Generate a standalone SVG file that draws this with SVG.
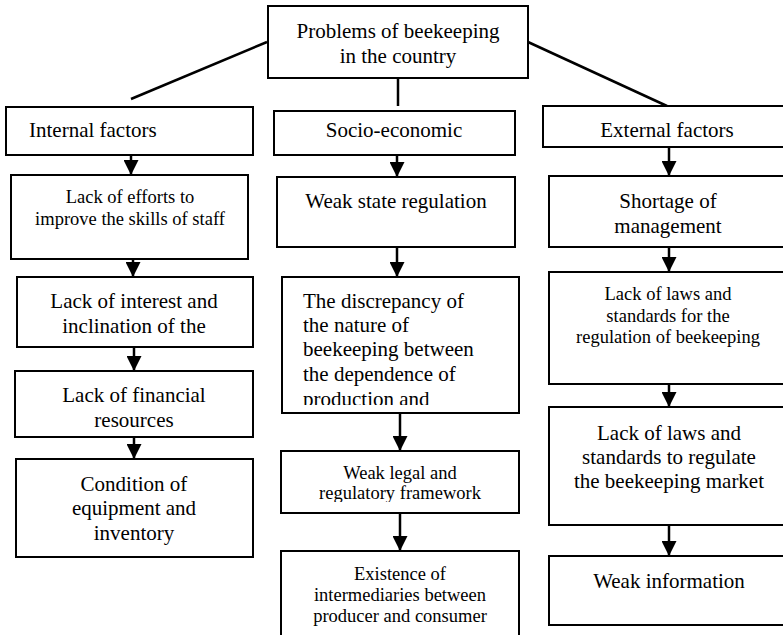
<svg xmlns="http://www.w3.org/2000/svg" width="783" height="635" viewBox="0 0 783 635">
  <style>
    .box { fill: #fff; stroke: #000; stroke-width: 2; }
    .t { fill: #000; }
    .lg { font-size: 21px; }
    .sm { font-size: 18.5px; }
    .c { text-anchor: middle; }
    .link { stroke: #000; stroke-width: 2.5; fill: none; }
    .arr { stroke: #000; stroke-width: 2.5; fill: none; marker-end: url(#head); }
  </style>
  <defs>
    <marker id="head" viewBox="0 0 15 15" refX="15" refY="7.5" markerWidth="15" markerHeight="15" markerUnits="userSpaceOnUse" orient="auto">
      <path d="M0,0 L15,7.5 L0,15 z" fill="#000"/>
    </marker>
    <clipPath id="clip-discrepancy"><rect x="282" y="278" width="236" height="127"/></clipPath>
    <clipPath id="clip-legal"><rect x="282" y="452" width="236" height="50"/></clipPath>
  </defs>

  <!-- connectors -->
  <g id="connectors">
    <line class="link" x1="267" y1="42" x2="131" y2="99"/>
    <line class="link" x1="398" y1="78" x2="398" y2="106"/>
    <line class="link" x1="528" y1="42" x2="667" y2="106"/>

    <line class="arr" x1="131" y1="155" x2="131" y2="175"/>
    <line class="arr" x1="133" y1="259" x2="133" y2="277"/>
    <line class="arr" x1="134" y1="347" x2="134" y2="371"/>
    <line class="arr" x1="134" y1="437" x2="134" y2="459"/>

    <line class="arr" x1="397" y1="155" x2="397" y2="177"/>
    <line class="arr" x1="397" y1="247" x2="397" y2="277"/>
    <line class="arr" x1="400" y1="413" x2="400" y2="451"/>
    <line class="arr" x1="400" y1="513" x2="400" y2="551"/>

    <line class="arr" x1="669" y1="147" x2="669" y2="176"/>
    <line class="arr" x1="669" y1="247" x2="669" y2="272"/>
    <line class="arr" x1="669" y1="384" x2="669" y2="407"/>
    <line class="arr" x1="669" y1="525" x2="669" y2="556"/>
  </g>

  <g font-family="'Liberation Serif', 'Times New Roman', serif">
  <!-- root -->
  <g id="root">
    <rect class="box" x="268" y="6" width="260" height="72"/>
    <text class="t lg c" x="398" y="38">Problems of beekeeping</text>
    <text class="t lg c" x="398" y="63">in the country</text>
  </g>

  <!-- column headers -->
  <g id="internal">
    <rect class="box" x="6" y="107" width="247" height="48"/>
    <text class="t lg" x="29" y="137">Internal factors</text>
  </g>
  <g id="socio">
    <rect class="box" x="274" y="111" width="241" height="44"/>
    <text class="t lg c" x="394" y="137">Socio-economic</text>
  </g>
  <g id="external">
    <rect class="box" x="543" y="106" width="242" height="41"/>
    <text class="t lg c" x="667" y="137">External factors</text>
  </g>

  <!-- internal factors column -->
  <g id="skills">
    <rect class="box" x="11" y="175" width="237" height="84"/>
    <text class="t sm c" x="130" y="203">Lack of efforts to</text>
    <text class="t sm c" x="130" y="225">improve the skills of staff</text>
  </g>
  <g id="interest">
    <rect class="box" x="17" y="277" width="236" height="70"/>
    <text class="t lg c" x="134" y="308">Lack of interest and</text>
    <text class="t lg c" x="134" y="333">inclination of the</text>
  </g>
  <g id="finance">
    <rect class="box" x="15" y="371" width="238" height="66"/>
    <text class="t lg c" x="134" y="402">Lack of financial</text>
    <text class="t lg c" x="134" y="427">resources</text>
  </g>
  <g id="equipment">
    <rect class="box" x="16" y="459" width="237" height="98"/>
    <text class="t lg c" x="134" y="491">Condition of</text>
    <text class="t lg c" x="134" y="515">equipment and</text>
    <text class="t lg c" x="134" y="540">inventory</text>
  </g>

  <!-- socio-economic column -->
  <g id="state">
    <rect class="box" x="277" y="177" width="238" height="70"/>
    <text class="t lg c" x="396" y="208">Weak state regulation</text>
  </g>
  <g id="discrepancy">
    <rect class="box" x="282" y="277" width="237" height="136"/>
    <g clip-path="url(#clip-discrepancy)">
      <text class="t lg" x="303" y="308">The discrepancy of</text>
      <text class="t lg" x="303" y="332">the nature of</text>
      <text class="t lg" x="303" y="356">beekeeping between</text>
      <text class="t lg" x="303" y="381">the dependence of</text>
      <text class="t lg" x="303" y="406">production and</text>
    </g>
  </g>
  <g id="legal">
    <rect class="box" x="281" y="451" width="238" height="62"/>
    <g clip-path="url(#clip-legal)">
      <text class="t sm c" x="400" y="479">Weak legal and</text>
      <text class="t sm c" x="400" y="499">regulatory framework</text>
    </g>
  </g>
  <g id="intermediaries">
    <rect class="box" x="281" y="551" width="238" height="95"/>
    <text class="t sm c" x="400" y="580">Existence of</text>
    <text class="t sm c" x="400" y="601">intermediaries between</text>
    <text class="t sm c" x="400" y="622">producer and consumer</text>
  </g>

  <!-- external factors column -->
  <g id="management">
    <rect class="box" x="549" y="176" width="236" height="71"/>
    <text class="t lg c" x="668" y="208">Shortage of</text>
    <text class="t lg c" x="668" y="233">management</text>
  </g>
  <g id="laws-regulation">
    <rect class="box" x="549" y="272" width="236" height="112"/>
    <text class="t sm c" x="668" y="300">Lack of laws and</text>
    <text class="t sm c" x="668" y="322">standards for the</text>
    <text class="t sm c" x="668" y="343">regulation of beekeeping</text>
  </g>
  <g id="laws-market">
    <rect class="box" x="549" y="407" width="236" height="118"/>
    <text class="t lg c" x="669" y="440">Lack of laws and</text>
    <text class="t lg c" x="669" y="464">standards to regulate</text>
    <text class="t lg c" x="669" y="488">the beekeeping market</text>
  </g>
  <g id="information">
    <rect class="box" x="549" y="556" width="236" height="69"/>
    <text class="t lg c" x="669" y="588">Weak information</text>
  </g>
  </g>
</svg>
